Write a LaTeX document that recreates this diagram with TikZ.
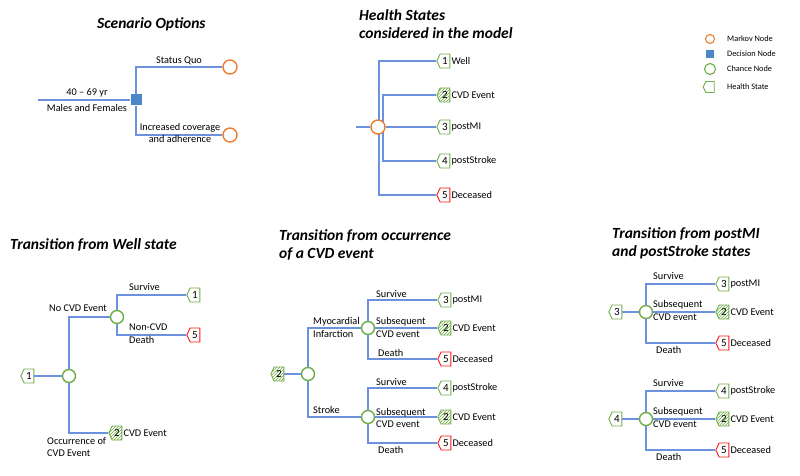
\documentclass[tikz,border=0pt]{standalone}
\usepackage{fontspec}
\setmainfont{Carlito}
\usetikzlibrary{shapes.symbols,patterns,backgrounds}
\definecolor{brblue}{RGB}{108,146,222}
\definecolor{mkorange}{RGB}{237,125,49}
\definecolor{chgreen}{RGB}{112,173,71}
\definecolor{dcblue}{RGB}{74,134,200}
\definecolor{dthred}{RGB}{250,20,20}
\newcommand{\lblfont}{\fontsize{10.3}{12.5}\selectfont}
\newcommand{\ttlfont}{\fontsize{15.5}{18}\selectfont\bfseries\itshape}
\newcommand{\tagfont}{\fontsize{11}{11}\selectfont}
\newcommand{\lgdfont}{\fontsize{8.3}{9}\selectfont}
\tikzset{
  lbl/.style={font=\lblfont, inner sep=1pt, align=left},
  ttl/.style={font=\ttlfont, anchor=west, align=left, inner sep=0pt},
  lgd/.style={font=\lgdfont, anchor=west, inner sep=0pt},
  branch/.style={draw=brblue, line width=1.2pt},
  markov/.style={circle, draw=mkorange, line width=1.4pt, fill=white, minimum size=14pt, inner sep=0pt},
  chance/.style={circle, draw=chgreen, line width=1.4pt, fill=white, minimum size=13pt, inner sep=0pt},
  decision/.style={rectangle, fill=dcblue, minimum size=11pt, inner sep=0pt},
  hstate/.style={signal, signal to=west, signal pointer angle=130, draw=chgreen, line width=0.9pt,
    fill=white, minimum width=13pt, minimum height=14pt, inner sep=0.5pt, font=\tagfont,
    label distance=4pt},
  dead/.style={hstate, draw=dthred},
  event/.style={hstate, pattern=north east lines, pattern color=chgreen},
}

\begin{document}
\begin{tikzpicture}[x=1pt,y=-1pt]
\useasboundingbox (0,0) rectangle (800,476);

% scenario options
\node[ttl] (scentitle) at (97,24) {Scenario Options};
\coordinate (scin) at (38,100);
\node[decision] (dec) at (136,100) {};
\node[markov] (quo) at (230,67) {};
\node[markov] (incr) at (230,135) {};
\draw[branch] (scin) -- (dec.west);
\draw[branch] (dec) |- (quo);
\draw[branch] (dec) |- (incr);
\node[lbl] (age) at (87,93) {40 -- 69 yr};
\node[lbl] (sex) at (87,108) {Males and Females};
\node[lbl] (quolbl) at (179,61) {Status Quo};
\node[lbl,align=center] (incrlbl) at (180,133) {Increased coverage\\and adherence};

% health states
\node[ttl] (hstitle) at (359,24) {Health States\\considered in the model};
\coordinate (hsin) at (356,127);
\node[markov] (hm) at (378,127) {};
\node[hstate,label={[lbl]right:Well}] (hs1) at (445,61) {1};
\node[event,label={[lbl]right:CVD Event}] (hs2) at (445,95) {2};
\node[hstate,label={[lbl]right:postMI}] (hs3) at (445,127) {3};
\node[hstate,label={[lbl]right:postStroke}] (hs4) at (445,161) {4};
\node[dead,label={[lbl]right:Deceased}] (hs5) at (445,195) {5};
\draw[branch] (hsin) -- (hm.west);
\draw[branch] (hm.east) -- (hs3.west);
\begin{scope}[on background layer]
\draw[branch] ([xshift=1pt]hm.center) |- (hs1);
\draw[branch] ([xshift=1pt]hm.center) |- (hs5);
\draw[branch] ([xshift=5pt]hm.center) |- (hs2);
\draw[branch] ([xshift=5pt]hm.center) |- (hs4);
\end{scope}

% legend
\node[markov,minimum size=9pt,line width=1.1pt] (lgmarkov) at (710,39) {};
\node[decision,minimum size=8pt] (lgdec) at (710,54) {};
\node[chance,minimum size=11pt,line width=1.1pt] (lgchance) at (710,69) {};
\node[hstate,minimum width=11pt,minimum height=11pt] (lgstate) at (710,87) {};
\foreach \y/\t/\n in {39/Markov Node/mk, 54/Decision Node/dc, 69/Chance Node/ch, 87/Health State/hs}
  \node[lgd] (lg\n) at (727,\y) {\t};

% transition from well
\node[ttl] (welltitle) at (10,245) {Transition from Well state};
\node[hstate] (w0) at (29,376) {1};
\node[chance] (wc) at (69,376) {};
\node[chance] (wnc) at (117,317) {};
\node[hstate] (w1) at (195,295) {1};
\node[dead] (w5) at (195,335) {5};
\node[event,label={[lbl]right:CVD Event}] (w2) at (117,433) {2};
\draw[branch] (w0.east) -- (wc.west);
\draw[branch] (wc) |- (wnc);
\draw[branch] (wc) |- (w2);
\draw[branch] (wnc) |- (w1);
\draw[branch] (wnc) |- (w5);
\node[lbl,anchor=east] (nocvd) at (108,308) {No CVD Event};
\node[lbl,anchor=west] (wsurv) at (128,287) {Survive};
\node[lbl,anchor=west] (wdeath) at (128,333.5) {Non-CVD\\Death};
\node[lbl,anchor=west] (woccur) at (46,447) {Occurrence of\\CVD Event};

% transition from cvd event
\node[ttl] (evtitle) at (279,245) {Transition from occurrence\\of a CVD event};
\node[event] (e0) at (279,374) {2};
\node[chance] (ec) at (308,374) {};
\node[chance] (emi) at (368,328) {};
\node[chance] (est) at (368,417) {};
\node[hstate,label={[lbl]right:postMI}] (emi1) at (446,300) {3};
\node[event,label={[lbl]right:CVD Event}] (emi2) at (446,328) {2};
\node[dead,label={[lbl]right:Deceased}] (emi3) at (446,359) {5};
\node[hstate,label={[lbl]right:postStroke}] (est1) at (446,388) {4};
\node[event,label={[lbl]right:CVD Event}] (est2) at (446,417) {2};
\node[dead,label={[lbl]right:Deceased}] (est3) at (446,443) {5};
\draw[branch] (e0.east) -- (ec.west);
\draw[branch] (ec) |- (emi);
\draw[branch] (ec) |- (est);
\draw[branch] (emi) |- (emi1);
\draw[branch] (emi.east) -- (emi2.west);
\draw[branch] (emi) |- (emi3);
\draw[branch] (est) |- (est1);
\draw[branch] (est.east) -- (est2.west);
\draw[branch] (est) |- (est3);
\node[lbl,anchor=west] (milbl) at (312,327.5) {Myocardial\\Infarction};
\node[lbl,anchor=west] (stlbl) at (312,410) {Stroke};
\node[lbl,anchor=west] (misurv) at (375,294) {Survive};
\node[lbl,anchor=west] (misub) at (375,327.5) {Subsequent\\CVD event};
\node[lbl,anchor=west] (midth) at (377,353) {Death};
\node[lbl,anchor=west] (stsurv) at (375,382) {Survive};
\node[lbl,anchor=west] (stsub) at (375,418) {Subsequent\\CVD event};
\node[lbl,anchor=west] (stdth) at (377,450) {Death};

% transition from postMI and postStroke
\node[ttl] (posttitle) at (612,243) {Transition from postMI\\and postStroke states};
\foreach \g/\y/\s/\st in {a/312/3/postMI, b/419/4/postStroke} {
  \node[hstate] (ps\g) at (617,\y) {\s};
  \node[chance] (pc\g) at (646,\y) {};
  \node[hstate,label={[lbl]right:\st}] (pt\g1) at (724,{\y-28}) {\s};
  \node[event,label={[lbl]right:CVD Event}] (pt\g2) at (724,\y) {2};
  \node[dead,label={[lbl]right:Deceased}] (pt\g3) at (724,{\y+31}) {5};
  \draw[branch] (ps\g.east) -- (pc\g.west);
  \draw[branch] (pc\g) |- (pt\g1);
  \draw[branch] (pc\g.east) -- (pt\g2.west);
  \draw[branch] (pc\g) |- (pt\g3);
  \node[lbl,anchor=west] (psv\g) at (652,{\y-36}) {Survive};
  \node[lbl,anchor=west] (psb\g) at (652,{\y-1.5}) {Subsequent\\CVD event};
  \node[lbl,anchor=west] (pdt\g) at (655,{\y+38}) {Death};
}
\end{tikzpicture}
\end{document}
